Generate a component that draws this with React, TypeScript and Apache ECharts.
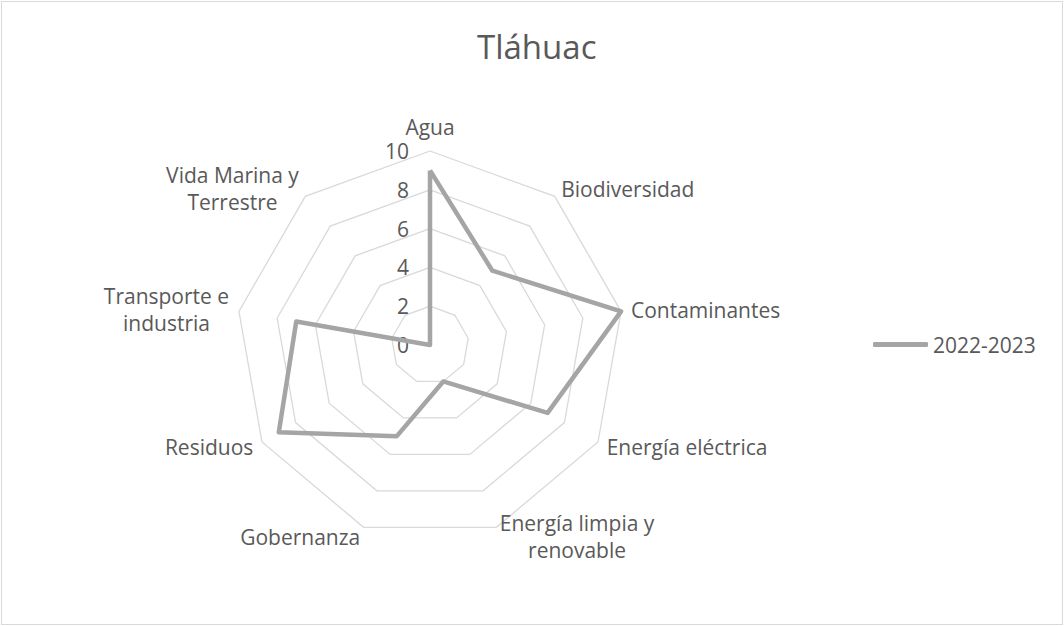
import React, { useEffect, useRef } from "react";
import * as echarts from "echarts";

const categories = [
  "Agua",
  "Biodiversidad",
  "Contaminantes",
  "Energía eléctrica",
  "Energía limpia y\nrenovable",
  "Gobernanza",
  "Residuos",
  "Transporte e\nindustria",
  "Vida Marina y\nTerrestre",
];
const values2022 = [9, 5, 10, 7, 2, 5, 9, 7, 0];
const seriesName = "2022-2023";
const axisMax = 10;
const titleText = "Tláhuac";

export default function App() {
  const ref = useRef<HTMLDivElement>(null);
  useEffect(() => {
    if (!ref.current) return;
    const chart = echarts.init(ref.current, null, { renderer: "svg" });
    // ECharts radar goes counter-clockwise; reorder to draw clockwise like the source
    const order = [0, ...categories.map((_, i) => i).slice(1).reverse()];
    const font = "'Open Sans', sans-serif";
    const indicator = order.map((i, k) => ({
      name: categories[i],
      min: 0,
      max: axisMax,
      ...(k === 0
        ? {
            axisLabel: {
              show: true,
              color: "#595959",
              fontSize: 21,
              fontFamily: font,
              margin: 21,
              showMinLabel: true,
              showMaxLabel: true,
            },
          }
        : {}),
    }));
    chart.setOption({
      animation: false,
      backgroundColor: "#ffffff",
      title: {
        text: titleText,
        left: 477,
        top: 30,
        padding: 0,
        textStyle: {
          color: "#595959",
          fontSize: 33,
          fontWeight: "normal",
          fontFamily: font,
        },
      },
      legend: {
        data: [seriesName],
        left: 873,
        top: 334,
        padding: 0,
        orient: "vertical",
        icon: "roundRect",
        itemWidth: 55,
        itemHeight: 5,
        itemGap: 5,
        textStyle: { color: "#595959", fontSize: 21, fontFamily: font, padding: [0, 0, 0, 0] },
      },
      radar: {
        center: [430, 345],
        radius: 194,
        startAngle: 90,
        shape: "polygon",
        splitNumber: 5,
        nameGap: 10,
        axisName: {
          color: "#595959",
          fontSize: 21,
          fontFamily: font,
          lineHeight: 27,
          formatter: (name: string) =>
            name
              .split("\n")
              .map((l) => `{c|${l}}`)
              .join("\n"),
          rich: {
            c: { align: "center", color: "#595959", fontSize: 21, fontFamily: font, lineHeight: 27 },
          },
        },
        splitLine: { lineStyle: { color: "#d9d9d9", width: 1.3 } },
        splitArea: { show: false },
        axisLine: { show: false },
        axisTick: { show: false },
        axisLabel: { show: false },
        indicator,
      },
      series: [
        {
          type: "radar",
          name: seriesName,
          symbol: "none",
          lineStyle: { color: "#a5a5a5", width: 4.5 },
          itemStyle: { color: "#a5a5a5" },
          data: [{ name: seriesName, value: order.map((i) => values2022[i]) }],
        },
      ],
    });
    return () => chart.dispose();
  }, []);
  return (
    <div style={{ position: "fixed", left: 0, top: 0, width: 1064, height: 626, background: "#fff" }}>
      <div ref={ref} style={{ position: "absolute", left: 0, top: 0, width: 1064, height: 626 }} />
      <div
        style={{
          position: "absolute",
          left: 1,
          top: 1,
          width: 1060,
          height: 622,
          border: "1px solid #d9d9d9",
          pointerEvents: "none",
        }}
      />
    </div>
  );
}
